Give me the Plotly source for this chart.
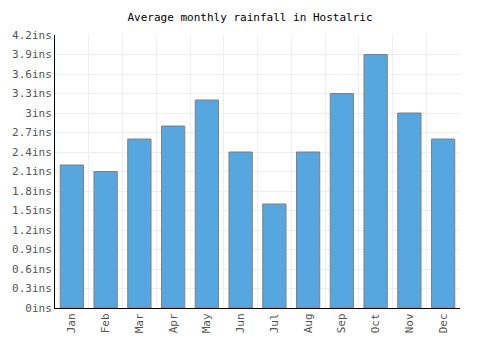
import plotly.graph_objects as go

months = ["Jan", "Feb", "Mar", "Apr", "May", "Jun", "Jul", "Aug", "Sep", "Oct", "Nov", "Dec"]
rainfall = [2.2, 2.1, 2.6, 2.8, 3.2, 2.4, 1.6, 2.4, 3.3, 3.9, 3.0, 2.6]
y_ticks = [0, 0.3, 0.6, 0.9, 1.2, 1.5, 1.8, 2.1, 2.4, 2.7, 3.0, 3.3, 3.6, 3.9, 4.2]
y_labels = ["0ins", "0.3ins", "0.6ins", "0.9ins", "1.2ins", "1.5ins", "1.8ins", "2.1ins",
            "2.4ins", "2.7ins", "3ins", "3.3ins", "3.6ins", "3.9ins", "4.2ins"]

font = "DejaVu Sans Mono"

fig = go.Figure(go.Bar(
    x=months, y=rainfall,
    marker=dict(color="#56A6DF", line=dict(color="#808080", width=1)),
))

fig.update_layout(
    width=500, height=350,
    margin=dict(l=41, r=40, t=35, b=42),
    paper_bgcolor="white", plot_bgcolor="white",
    bargap=0.31,
    showlegend=False,
    title=dict(text="Average monthly rainfall in Hostalric", x=0.5, xanchor="center",
               y=0.95, yanchor="middle", font=dict(family=font, size=11, color="#000")),
    font=dict(family=font, size=11, color="#555"),
)
fig.update_xaxes(
    showline=True, linecolor="#000", linewidth=1,
    showgrid=True, gridcolor="#eeeeee", gridwidth=1, tickson="boundaries",
    ticks="", tickangle=-90, tickfont=dict(family=font, size=11, color="#555"),
    mirror=False,
)
fig.update_yaxes(
    range=[0, 4.2], tickvals=y_ticks, ticktext=y_labels,
    showline=True, linecolor="#000", linewidth=1,
    showgrid=True, gridcolor="#eeeeee", gridwidth=1, zeroline=False,
    ticks="", tickfont=dict(family=font, size=11, color="#555"),
)

fig.write_html("out.html")
